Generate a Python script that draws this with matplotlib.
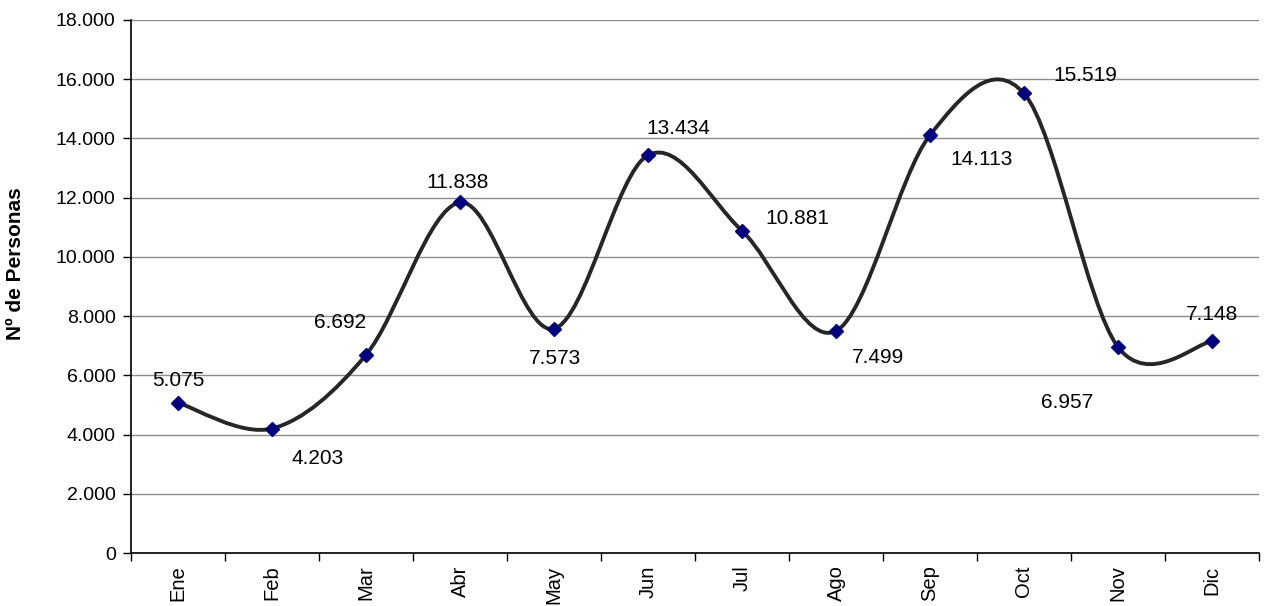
import matplotlib
matplotlib.use("Agg")
import matplotlib.pyplot as plt
import numpy as np
from matplotlib.path import Path
from matplotlib.patches import PathPatch
from matplotlib.ticker import FuncFormatter, FixedLocator

plt.rcParams['font.family'] = ['Liberation Sans', 'DejaVu Sans']

months = ['Ene', 'Feb', 'Mar', 'Abr', 'May', 'Jun', 'Jul', 'Ago', 'Sep', 'Oct', 'Nov', 'Dic']
values = [5075, 4203, 6692, 11838, 7573, 13434, 10881, 7499, 14113, 15519, 6957, 7148]
labels = ['5.075', '4.203', '6.692', '11.838', '7.573', '13.434', '10.881', '7.499', '14.113', '15.519', '6.957', '7.148']
# label offsets in pixels (dx, dy)
offsets = [(0, 22), (46, -30), (-26, 32), (-2, 20), (1, -30), (30, 27), (55, 12), (42, -27), (52, -24), (61, 18), (-51, -56), (0, 27)]

fig = plt.figure(figsize=(12.66, 6.06), dpi=100)
ax = fig.add_axes([131/1266, 1-553/606, (1259-131)/1266, (553-20)/606])

x = np.arange(len(values))
y = np.array(values, dtype=float)

# Excel-like smoothed line (Catmull-Rom as cubic Bezier)
verts = [(x[0], y[0])]
codes = [Path.MOVETO]
n = len(x)
for i in range(n - 1):
    p0 = np.array([x[max(i-1, 0)], y[max(i-1, 0)]])
    p1 = np.array([x[i], y[i]])
    p2 = np.array([x[i+1], y[i+1]])
    p3 = np.array([x[min(i+2, n-1)], y[min(i+2, n-1)]])
    c1 = p1 + (p2 - p0) / 6.0
    c2 = p2 - (p3 - p1) / 6.0
    verts += [tuple(c1), tuple(c2), tuple(p2)]
    codes += [Path.CURVE4, Path.CURVE4, Path.CURVE4]
patch = PathPatch(Path(verts, codes), facecolor='none', edgecolor='#262626', lw=2.8, zorder=3)
ax.add_patch(patch)

ax.plot(x, y, linestyle='none', marker='D', markersize=7.5, color='#00007f', zorder=4)

for xi, yi, lab, (dx, dy) in zip(x, y, labels, offsets):
    ax.annotate(lab, (xi, yi), xytext=(dx, dy), textcoords='offset pixels',
                ha='center', va='center', fontsize=15, color='black')

ax.set_xlim(-0.5, n - 0.5)
ax.set_ylim(0, 18000)
ax.set_yticks(np.arange(0, 18001, 2000))
ax.yaxis.set_major_formatter(FuncFormatter(lambda v, p: f"{int(v):,}".replace(',', '.')))
ax.grid(axis='y', color='#8c8c8c', lw=1.0)
ax.set_axisbelow(True)

ax.set_xticks(x)
ax.set_xticklabels(months, rotation=90, fontsize=14.5)
ax.xaxis.set_minor_locator(FixedLocator(np.arange(-0.5, n, 1)))
ax.tick_params(axis='x', which='major', length=0, pad=9)
ax.tick_params(axis='x', which='minor', length=6, width=1, direction='out', color='black')
ax.tick_params(axis='y', length=6, width=1, direction='out', labelsize=14, pad=5)

for s in ['top', 'right']:
    ax.spines[s].set_visible(False)
for s in ['left', 'bottom']:
    ax.spines[s].set_color('black')
    ax.spines[s].set_linewidth(1.2)

ax.set_ylabel('Nº de Personas', fontsize=15, fontweight='bold')
ax.yaxis.set_label_coords(-0.094, 0.542)

fig.savefig('out.png', dpi=100)
